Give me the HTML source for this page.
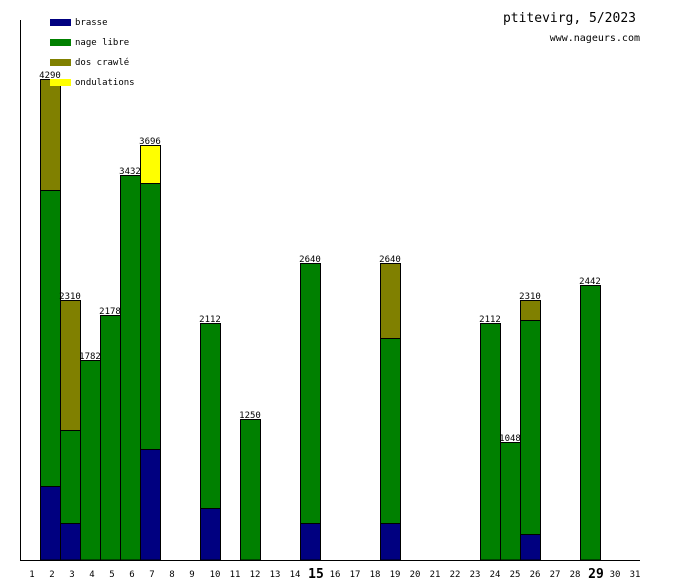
<!DOCTYPE html>
<html><head><meta charset="utf-8"><style>body{margin:0;background:#fff}svg{display:block}text{font-family:"DejaVu Sans Mono","Liberation Mono",monospace}</style></head><body>
<svg width="680" height="580" viewBox="0 0 680 580" xmlns="http://www.w3.org/2000/svg">
<g stroke="#000" stroke-width="1">
<!-- day 2 -->
<rect x="40.5" y="486.5" width="20" height="73.5" fill="#000080"/>
<rect x="40.5" y="190.5" width="20" height="296" fill="#008000"/>
<rect x="40.5" y="79.5" width="20" height="111" fill="#808000"/>
<!-- day 3 -->
<rect x="60.5" y="523.5" width="20" height="36.5" fill="#000080"/>
<rect x="60.5" y="430.5" width="20" height="93" fill="#008000"/>
<rect x="60.5" y="300.5" width="20" height="130" fill="#808000"/>
<!-- 4,5,6 -->
<rect x="80.5" y="360.5" width="20" height="199.5" fill="#008000"/>
<rect x="100.5" y="315.5" width="20" height="244.5" fill="#008000"/>
<rect x="120.5" y="175.5" width="20" height="384.5" fill="#008000"/>
<!-- 7 -->
<rect x="140.5" y="449.5" width="20" height="110.5" fill="#000080"/>
<rect x="140.5" y="183.5" width="20" height="266" fill="#008000"/>
<rect x="140.5" y="145.5" width="20" height="38" fill="#ffff00"/>
<!-- 10 -->
<rect x="200.5" y="508.5" width="20" height="51.5" fill="#000080"/>
<rect x="200.5" y="323.5" width="20" height="185" fill="#008000"/>
<!-- 12 -->
<rect x="240.5" y="419.5" width="20" height="140.5" fill="#008000"/>
<!-- 15 -->
<rect x="300.5" y="523.5" width="20" height="36.5" fill="#000080"/>
<rect x="300.5" y="263.5" width="20" height="260" fill="#008000"/>
<!-- 19 -->
<rect x="380.5" y="523.5" width="20" height="36.5" fill="#000080"/>
<rect x="380.5" y="338.5" width="20" height="185" fill="#008000"/>
<rect x="380.5" y="263.5" width="20" height="75" fill="#808000"/>
<!-- 24,25 -->
<rect x="480.5" y="323.5" width="20" height="236.5" fill="#008000"/>
<rect x="500.5" y="442.5" width="20" height="117.5" fill="#008000"/>
<!-- 26 -->
<rect x="520.5" y="534.5" width="20" height="25.5" fill="#000080"/>
<rect x="520.5" y="320.5" width="20" height="214" fill="#008000"/>
<rect x="520.5" y="300.5" width="20" height="20" fill="#808000"/>
<!-- 29 -->
<rect x="580.5" y="285.5" width="20" height="274.5" fill="#008000"/>
</g>
<line x1="20.5" y1="20" x2="20.5" y2="560" stroke="#000"/>
<line x1="20" y1="560.5" x2="640" y2="560.5" stroke="#000"/>
<g font-size="9" text-anchor="middle" fill="#000">
<text x="50" y="78">4290</text><text x="70" y="299">2310</text><text x="90" y="359">1782</text>
<text x="110" y="314">2178</text><text x="130" y="174">3432</text><text x="150" y="144">3696</text>
<text x="210" y="322">2112</text><text x="250" y="418">1250</text><text x="310" y="262">2640</text>
<text x="390" y="262">2640</text><text x="490" y="322">2112</text><text x="510" y="441">1048</text>
<text x="530" y="299">2310</text><text x="590" y="284">2442</text>
</g>
<g font-size="9" fill="#000">
<rect x="50" y="19" width="21" height="7" fill="#000080"/><text x="75" y="25">brasse</text>
<rect x="50" y="39" width="21" height="7" fill="#008000"/><text x="75" y="45">nage libre</text>
<rect x="50" y="59" width="21" height="7" fill="#808000"/><text x="75" y="65">dos crawlé</text>
<rect x="50" y="79" width="21" height="7" fill="#ffff00"/><text x="75" y="85">ondulations</text>
</g>
<text x="636" y="22" font-size="13" text-anchor="end">ptitevirg, 5/2023</text>
<text x="640" y="41" font-size="10" text-anchor="end">www.nageurs.com</text>
<g font-size="9" text-anchor="middle" fill="#000">
<text x="32" y="577">1</text><text x="52" y="577">2</text><text x="72" y="577">3</text><text x="92" y="577">4</text>
<text x="112" y="577">5</text><text x="132" y="577">6</text><text x="152" y="577">7</text><text x="172" y="577">8</text>
<text x="192" y="577">9</text><text x="215" y="577">10</text><text x="235" y="577">11</text><text x="255" y="577">12</text>
<text x="275" y="577">13</text><text x="295" y="577">14</text>
<text x="316" y="578" font-size="13" font-weight="bold">15</text>
<text x="335" y="577">16</text><text x="355" y="577">17</text><text x="375" y="577">18</text><text x="395" y="577">19</text>
<text x="415" y="577">20</text><text x="435" y="577">21</text><text x="455" y="577">22</text><text x="475" y="577">23</text>
<text x="495" y="577">24</text><text x="515" y="577">25</text><text x="535" y="577">26</text><text x="555" y="577">27</text>
<text x="575" y="577">28</text>
<text x="596" y="578" font-size="13" font-weight="bold">29</text>
<text x="615" y="577">30</text><text x="635" y="577">31</text>
</g>
</svg>
</body></html>
